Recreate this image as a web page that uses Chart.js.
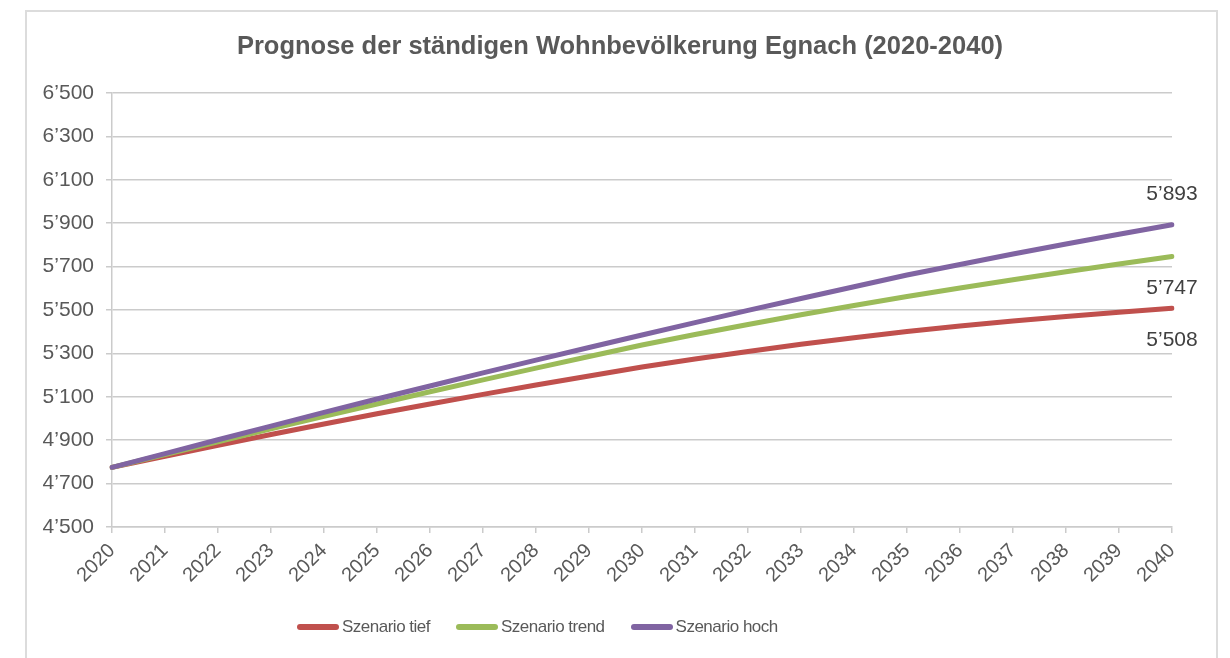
<!DOCTYPE html>
<html lang="de">
<head>
  <meta charset="UTF-8" />
  <title>Prognose Wohnbevölkerung Egnach</title>
  <script src="https://cdn.jsdelivr.net/npm/chart.js"></script>
  <style>
    html, body {
      margin: 0;
      padding: 0;
      background: #fff;
      width: 1230px;
      height: 658px;
      overflow: hidden;
      font-family: "Liberation Sans", Arial, sans-serif;
    }
    .frame {
      position: absolute;
      left: 25px;
      top: 10px;
      width: 1193px;
      height: 700px;
      border: 2px solid #dcdcdc;
      box-sizing: border-box;
    }
    .wrap {
      position: absolute;
      left: 0;
      top: 0;
      width: 1230px;
      height: 658px;
    }
    .title {
      position: absolute;
      left: 0;
      top: 30px;
      width: 1240px;
      text-align: center;
      font-size: 25.5px;
      line-height: 30px;
      font-weight: bold;
      color: #595959;
      margin: 0;
    }
    .legend {
      position: absolute;
      left: 297px;
      top: 616px;
      height: 22px;
      display: flex;
      align-items: center;
      gap: 26px;
      color: #595959;
      font-size: 17px;
      letter-spacing: -0.5px;
    }
    .legend .item {
      display: flex;
      align-items: center;
    }
    .legend .swatch {
      display: inline-block;
      width: 42px;
      height: 6px;
      border-radius: 3px;
      margin-right: 3px;
    }
  </style>
</head>
<body>
  <div class="frame"></div>
  <div class="wrap"><canvas id="popChart" width="1230" height="658"></canvas></div>
  <div class="title">Prognose der ständigen Wohnbevölkerung Egnach (2020-2040)</div>
  <div class="legend" id="legend"></div>

  <script>
    const years = ['2020', '2021', '2022', '2023', '2024', '2025', '2026', '2027', '2028', '2029', '2030',
                   '2031', '2032', '2033', '2034', '2035', '2036', '2037', '2038', '2039', '2040'];

    const tief  = [4775, 4826, 4876, 4926, 4975, 5022, 5067, 5111, 5154, 5196, 5237,
                   5274, 5309, 5342, 5372, 5401, 5426, 5449, 5470, 5490, 5508];
    const trend = [4775, 4834, 4893, 4952, 5010, 5067, 5123, 5178, 5232, 5286, 5339,
                   5387, 5433, 5478, 5521, 5562, 5601, 5639, 5676, 5712, 5747];
    const hoch  = [4775, 4838, 4902, 4965, 5028, 5090, 5150, 5210, 5269, 5327, 5385,
                   5442, 5498, 5553, 5607, 5661, 5710, 5758, 5804, 5849, 5893];

    const yTicks = [4500, 4700, 4900, 5100, 5300, 5500, 5700, 5900, 6100, 6300, 6500];

    const fontFam = '"Liberation Sans", Arial, sans-serif';
    const grey = '#595959';
    const gridGrey = '#cbcbcb';

    function swiss(v) {
      return Math.round(v).toString().replace(/\B(?=(\d{3})+(?!\d))/g, '\u2019');
    }

    // end-of-line value labels: hoch above the line, the others below
    const endLabels = {
      id: 'endLabels',
      afterDatasetsDraw(chart) {
        const ctx = chart.ctx;
        const xs = chart.scales.x;
        const ys = chart.scales.y;
        const last = years.length - 1;
        ctx.save();
        ctx.font = '21px ' + fontFam;
        ctx.fillStyle = '#404040';
        ctx.textAlign = 'center';
        ctx.textBaseline = 'middle';
        chart.data.datasets.forEach(ds => {
          const v = ds.data[last];
          const x = xs.getPixelForValue(last);
          const y = ys.getPixelForValue(v);
          const dy = ds.labelAbove ? -31 : 32;
          ctx.fillText(swiss(v), x, y + dy);
        });
        ctx.restore();
      }
    };

    const ctx = document.getElementById('popChart').getContext('2d');

    const chart = new Chart(ctx, {
      type: 'line',
      data: {
        labels: years,
        datasets: [
          { label: 'Szenario tief', data: tief, borderColor: '#c0504d', order: 3 },
          { label: 'Szenario trend', data: trend, borderColor: '#9bbb59', order: 2 },
          { label: 'Szenario hoch', data: hoch, borderColor: '#8064a2', order: 1, labelAbove: true }
        ]
      },
      options: {
        responsive: false,
        maintainAspectRatio: false,
        animation: false,
        devicePixelRatio: 1,
        layout: { padding: { left: 0, right: 58, top: 93, bottom: 0 } },
        elements: {
          line: { borderWidth: 5, tension: 0, borderCapStyle: 'round', fill: false },
          point: { radius: 0, hoverRadius: 0 }
        },
        plugins: {
          title: { display: false },
          legend: { display: false },
          tooltip: { enabled: false }
        },
        scales: {
          x: {
            grid: { display: true, drawOnChartArea: false, drawTicks: true, tickLength: 6, color: gridGrey, lineWidth: 1.5 },
            border: { color: gridGrey, width: 1.5 },
            ticks: {
              color: grey,
              font: { family: fontFam, size: 20 },
              maxRotation: 45,
              minRotation: 45,
              autoSkip: false,
              padding: 6
            },
            afterFit(axis) { axis.height = 131; }
          },
          y: {
            min: 4500,
            max: 6500,
            afterBuildTicks(axis) { axis.ticks = yTicks.map(v => ({ value: v })); },
            grid: { color: gridGrey, lineWidth: 1.5, tickLength: 6 },
            border: { color: gridGrey, width: 1.5 },
            ticks: {
              color: grey,
              font: { family: fontFam, size: 21 },
              padding: 12,
              callback: v => swiss(v)
            },
            afterFit(axis) { axis.width = 112; }
          }
        }
      },
      plugins: [endLabels]
    });

    // legend as html, built from the datasets
    const legendEl = document.getElementById('legend');
    chart.data.datasets.forEach(ds => {
      const item = document.createElement('span');
      item.className = 'item';
      item.innerHTML = '<span class="swatch" style="background:' + ds.borderColor + '"></span>' + ds.label;
      legendEl.appendChild(item);
    });
  </script>
</body>
</html>
